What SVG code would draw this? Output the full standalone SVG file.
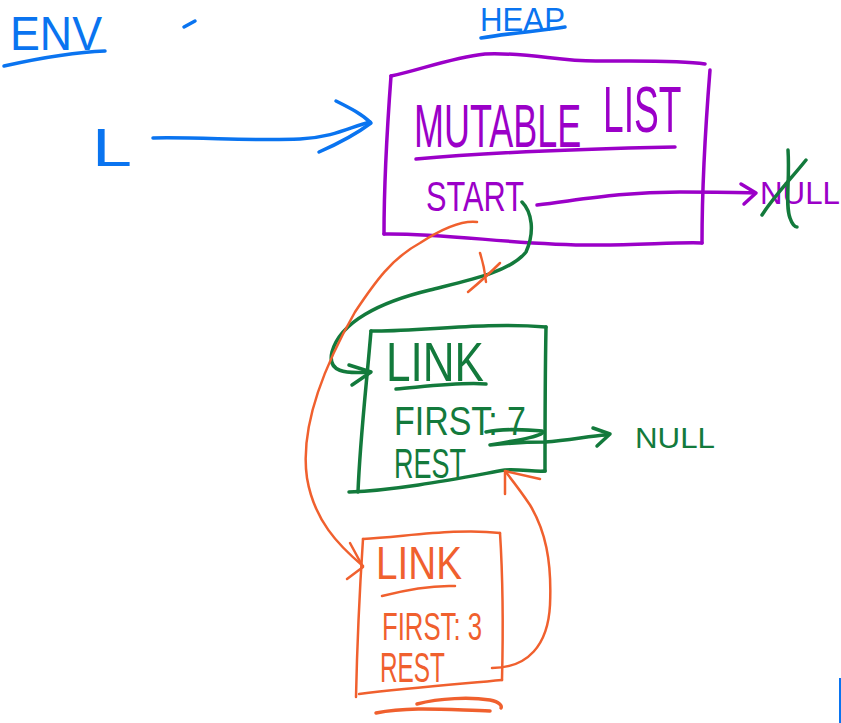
<svg xmlns="http://www.w3.org/2000/svg" width="841" height="723" viewBox="0 0 841 723">
  <style>
    .ink { fill: none; stroke-linecap: round; stroke-linejoin: round; stroke-width: 3.5; }
    .thin { stroke-width: 2.5; }
    .blue { stroke: #0a74f0; }
    .purple { stroke: #9b00c8; }
    .green { stroke: #137a3c; }
    .orange { stroke: #f0602e; }
    text { font-family: "Liberation Sans", "DejaVu Sans", sans-serif; }
    .tb { fill: #0a74f0; }
    .tp { fill: #9b00c8; }
    .tg { fill: #137a3c; }
    .to { fill: #f0602e; }
  </style>
  <rect width="841" height="723" fill="#ffffff"/>

  <!-- section headings -->
  <g id="env-heading">
    <text x="10" y="50" class="tb" font-size="48" textLength="92" lengthAdjust="spacingAndGlyphs">ENV</text>
    <path class="ink blue" d="M4,66 C40,58 75,52 105,51"/>
    <path class="ink blue" d="M184,27 L195,21"/>
  </g>
  <g id="heap-heading">
    <text x="480" y="31" class="tb" font-size="33" textLength="85" lengthAdjust="spacingAndGlyphs">HEAP</text>
    <path class="ink blue" d="M481,38 C510,33 540,31 565,27"/>
  </g>

  <!-- variable L in the environment -->
  <g id="var-l">
    <text x="92" y="166" class="tb" font-size="54" textLength="40" lengthAdjust="spacingAndGlyphs">L</text>
  </g>

  <!-- MutableList object -->
  <g id="mutable-list">
    <path class="ink purple" d="M391,76 C420,70 450,58 485,54 C530,52 560,62 600,61 C640,61 680,60 705,64"/>
    <path class="ink purple" d="M710,70 C706,120 702,180 702,243"/>
    <path class="ink purple" d="M384,234 C450,233 520,246 600,245 C640,245 680,242 702,243"/>
    <path class="ink purple" d="M391,76 C387,130 384,190 384,234"/>
    <text class="tp" font-size="62" transform="translate(414 147) scale(0.58 1)" x="0" y="0">MUTABLE <tspan x="326" y="-15" font-size="64">LIST</tspan></text>
    <path class="ink purple" d="M416,159 C480,153 580,149 675,147"/>
    <text x="426" y="211" class="tp" font-size="42" textLength="98" lengthAdjust="spacingAndGlyphs">START</text>
  </g>

  <!-- Link holding 7 -->
  <g id="link-7">
    <path class="ink green" d="M371,331 C420,332 480,322 546,327"/>
    <path class="ink green" d="M546,327 C545,380 545,430 545,471"/>
    <path class="ink green" d="M349,492 C400,490 460,478 505,470 C520,469 535,472 545,471"/>
    <path class="ink green" d="M371,331 C366,390 360,440 358,492"/>
    <text x="386" y="381" class="tg" font-size="56" textLength="98" lengthAdjust="spacingAndGlyphs">LINK</text>
    <path class="ink green" d="M396,389 C430,386 460,382 486,384"/>
    <text x="394" y="435" class="tg" font-size="40" textLength="132" lengthAdjust="spacingAndGlyphs">FIRST: 7</text>
    <text x="394" y="478" class="tg" font-size="42" textLength="72" lengthAdjust="spacingAndGlyphs">REST</text>
  </g>

  <!-- Link holding 3 -->
  <g id="link-3">
    <path class="ink orange thin" d="M363,539 C410,536 460,528 500,533"/>
    <path class="ink orange thin" d="M500,533 C503,580 503,640 502,680"/>
    <path class="ink orange thin" d="M359,694 C410,688 460,684 502,680"/>
    <path class="ink orange thin" d="M363,539 C359,600 357,650 356,697"/>
    <text x="376" y="579" class="to" font-size="46" textLength="86" lengthAdjust="spacingAndGlyphs">LINK</text>
    <path class="ink orange thin" d="M382,596 C405,590 430,585 455,586"/>
    <text x="382" y="640" class="to" font-size="38" textLength="100" lengthAdjust="spacingAndGlyphs">FIRST: 3</text>
    <text x="380" y="682" class="to" font-size="42" textLength="65" lengthAdjust="spacingAndGlyphs">REST</text>
    <path class="ink orange" d="M376,713 C410,706 450,710 490,711"/>
    <path class="ink orange" d="M417,704 C440,698 470,697 490,700 C500,702 502,706 501,708"/>
  </g>

  <!-- null value targets -->
  <g id="null-start">
    <text x="760" y="204" class="tp" font-size="32" textLength="80" lengthAdjust="spacingAndGlyphs">NULL</text>
    <path class="ink green" d="M762,215 C775,195 790,180 806,160"/>
    <path class="ink green" d="M788,150 C790,180 785,205 790,218 C792,224 795,227 797,227"/>
  </g>
  <g id="null-rest">
    <text x="635" y="448" class="tg" font-size="30" textLength="80" lengthAdjust="spacingAndGlyphs">NULL</text>
  </g>

  <!-- connectors -->
  <g id="connectors">
    <!-- L -> MutableList -->
    <path class="ink blue" d="M153,138 C200,137 250,141 300,139 C335,137 350,127 370,122"/>
    <path class="ink blue" d="M336,101 C350,108 362,114 371,123 C355,135 335,145 319,152"/>

    <!-- start -> null (old) -->
    <path class="ink purple" d="M537,205 C580,200 620,192 680,192 C710,192 735,192 754,193"/>
    <path class="ink purple" d="M741,184 L756,193 L744,204"/>

    <!-- start -> Link(7) -->
    <path class="ink green" d="M522,202 C532,212 535,232 526,252 C510,272 470,280 430,290 C380,302 340,322 332,352 C327,372 345,374 370,372"/>
    <path class="ink green" d="M349,365 L371,372 L352,385"/>

    <!-- crossed-out start -> Link(3) -->
    <path class="ink orange thin" d="M477,222 C460,220 440,230 420,243 C392,258 375,282 355,312 C322,370 300,430 307,478 C314,520 338,545 363,566"/>
    <path class="ink orange thin" d="M350,543 L363,567 L347,579"/>
    <path class="ink orange thin" d="M480,253 C483,262 485,272 486,282"/>
    <path class="ink orange thin" d="M500,263 C490,273 480,282 468,292"/>

    <!-- rest of Link(7) -> null -->
    <path class="ink green" d="M486,432 C505,428 525,430 542,431 C548,435 520,440 490,445 C510,443 530,442 545,442 C570,440 590,436 606,435"/>
    <path class="ink green" d="M593,428 L610,434 L597,446"/>

    <!-- rest of Link(3) -> Link(7) -->
    <path class="ink orange thin" d="M492,668 C528,668 548,645 550,605 C552,560 545,530 530,505 C520,490 512,480 505,471"/>
    <path class="ink orange thin" d="M505,494 L505,471 L540,479"/>
  </g>

  <!-- edge marker at the lower right -->
  <rect x="839" y="678" width="2" height="45" fill="#0a74f0"/>
</svg>
